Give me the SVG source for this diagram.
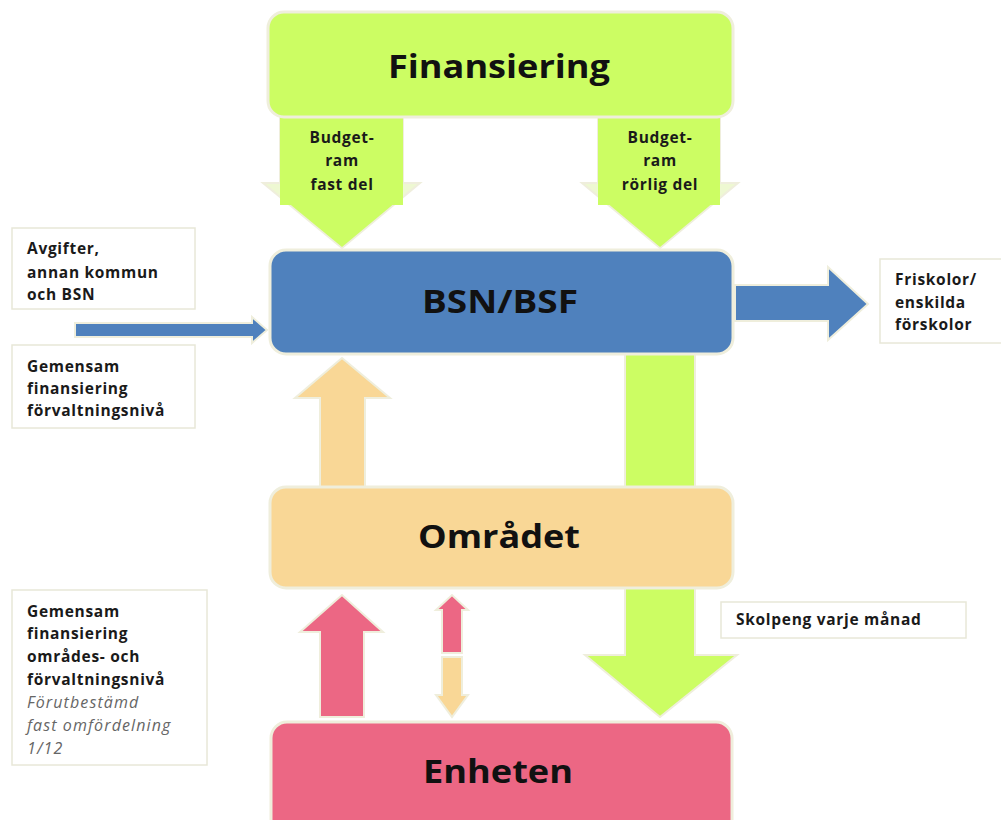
<svg xmlns="http://www.w3.org/2000/svg" width="1001" height="820" viewBox="0 0 1001 820">
<style>
.box{stroke:#efeedc;stroke-width:3}
.green{fill:#ccfd63}
.pale{fill:#eef8d2}
.blue{fill:#4f81bd}
.orange{fill:#f9d796}
.pink{fill:#ec6784}
.arr{stroke:#efeedc;stroke-width:2;stroke-linejoin:miter}
.big{font-family:"Open Sans","Liberation Sans",sans-serif;font-weight:700;font-size:33px;fill:#111;text-anchor:middle}
.lbl{font-family:"Open Sans","Liberation Sans",sans-serif;font-weight:700;font-size:15.5px;fill:#1a1a1a;letter-spacing:0.7px}
.mid{text-anchor:middle}
.ital{font-style:italic;font-weight:400;fill:#666;font-size:16px;letter-spacing:1.1px}
.note{fill:#fff;stroke:#e8e7d8;stroke-width:1.5}
</style>
<rect width="1001" height="820" fill="#fff"/>

<g id="connectors">
  <!-- Budget-ram fast del -->
  <polygon class="pale arr" points="280,117 403,117 403,183 420,183 342,248 263,183 280,183"/>
  <rect class="green" x="280" y="117" width="123" height="88"/>
  <polygon class="green" points="289.7,204 393.6,204 342,247"/>
  <!-- Budget-ram rörlig del -->
  <polygon class="pale arr" points="598,117 720,117 720,183 738,183 660,248 582,183 598,183"/>
  <rect class="green" x="598" y="117" width="122" height="88"/>
  <polygon class="green" points="608.4,204 711.6,204 660,247"/>
  <!-- green down BSN -> Enheten -->
  <polygon class="green arr" points="625,353 695,353 695,655 737,655 660,717 585,655 625,655"/>
  <!-- blue in from left -->
  <polygon class="blue arr" points="75,323 252,323 252,317 267,330 252,343 252,337 75,337"/>
  <!-- blue out right -->
  <polygon class="blue arr" points="735,285 828,285 828,267 868,304 828,340 828,321 735,321"/>
  <!-- orange up Området -> BSN -->
  <polygon class="orange arr" points="320,487 365,487 365,398 390,398 342,358 295,398 320,398"/>
  <!-- pink up Enheten -> Området -->
  <polygon class="pink arr" points="320,717 364,717 364,632 383,632 342,595 300,632 320,632"/>
  <!-- double arrow -->
  <polygon class="pink arr" points="442,653 462,653 462,610 468,610 452,595 436,610 442,610"/>
  <polygon class="orange arr" points="442,657 462,657 462,695 468,695 452,717 436,695 442,695"/>
</g>

<g id="finansiering">
  <rect class="box green" x="268" y="12" width="465" height="105" rx="16"/>
  <text class="big" x="499" y="78" font-size="34" textLength="222" lengthAdjust="spacingAndGlyphs">Finansiering</text>
</g>
<g id="budget-fast">
  <text class="lbl mid" x="342" y="143">Budget-</text>
  <text class="lbl mid" x="342" y="166">ram</text>
  <text class="lbl mid" x="342" y="190">fast del</text>
</g>
<g id="budget-rorlig">
  <text class="lbl mid" x="660" y="143">Budget-</text>
  <text class="lbl mid" x="660" y="166">ram</text>
  <text class="lbl mid" x="660" y="190">rörlig del</text>
</g>

<g id="bsn">
  <rect class="box blue" x="270" y="250" width="463" height="104" rx="16"/>
  <text class="big" x="500" y="313" textLength="156" lengthAdjust="spacingAndGlyphs">BSN/BSF</text>
</g>

<g id="omradet">
  <rect class="box orange" x="270" y="487" width="463" height="101" rx="16"/>
  <text class="big" x="499" y="548" textLength="162" lengthAdjust="spacingAndGlyphs">Området</text>
</g>

<g id="enheten">
  <rect class="box pink" x="271" y="722" width="461" height="120" rx="16"/>
  <text class="big" x="498" y="783" textLength="150" lengthAdjust="spacingAndGlyphs">Enheten</text>
</g>

<g id="avgifter">
  <rect class="note" x="12" y="228" width="183" height="81"/>
  <text class="lbl" x="27" y="254">Avgifter,</text>
  <text class="lbl" x="27" y="278">annan kommun</text>
  <text class="lbl" x="27" y="300">och BSN</text>
</g>

<g id="gemensam-forvaltning">
  <rect class="note" x="12" y="345" width="183" height="83"/>
  <text class="lbl" x="27" y="372">Gemensam</text>
  <text class="lbl" x="27" y="394">finansiering</text>
  <text class="lbl" x="27" y="416">förvaltningsnivå</text>
</g>

<g id="friskolor">
  <rect class="note" x="880" y="259" width="130" height="84"/>
  <text class="lbl" x="895" y="285">Friskolor/</text>
  <text class="lbl" x="895" y="308">enskilda</text>
  <text class="lbl" x="895" y="330">förskolor</text>
</g>

<g id="skolpeng">
  <rect class="note" x="721" y="602" width="245" height="36"/>
  <text class="lbl" x="736" y="625">Skolpeng varje månad</text>
</g>

<g id="gemensam-omrade">
  <rect class="note" x="12" y="590" width="195" height="175"/>
  <text class="lbl" x="27" y="617">Gemensam</text>
  <text class="lbl" x="27" y="639">finansiering</text>
  <text class="lbl" x="27" y="662">områdes- och</text>
  <text class="lbl" x="27" y="685">förvaltningsnivå</text>
  <text class="lbl ital" x="27" y="708">Förutbestämd</text>
  <text class="lbl ital" x="27" y="731">fast omfördelning</text>
  <text class="lbl ital" x="27" y="754">1/12</text>
</g>
</svg>
